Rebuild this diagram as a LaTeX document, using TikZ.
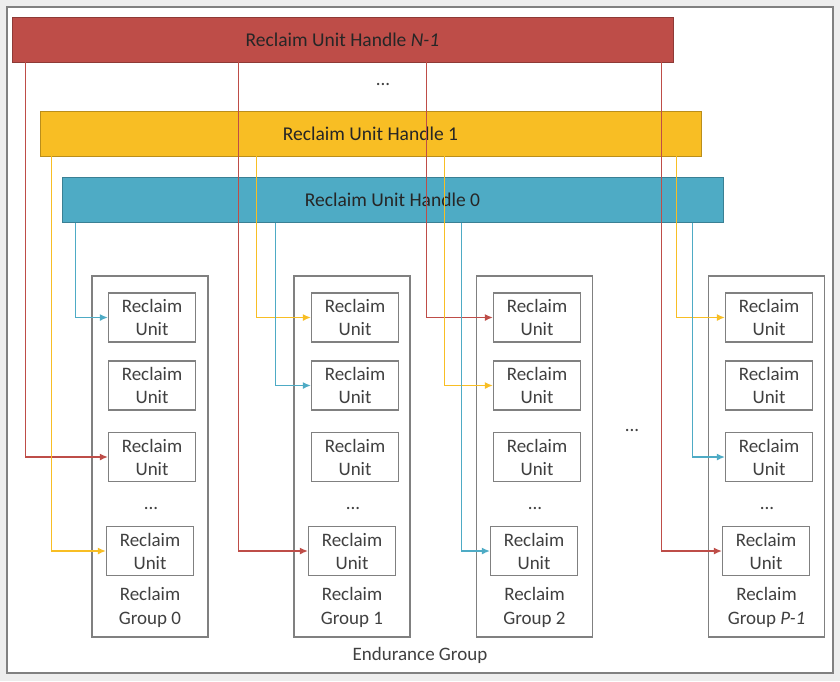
\documentclass[tikz,border=0pt]{standalone}
\usepackage{fontspec}
\setmainfont{Carlito}
\usetikzlibrary{arrows.meta}

\definecolor{rhred}{HTML}{BE4D48}
\definecolor{rhyellow}{HTML}{F8BE24}
\definecolor{rhblue}{HTML}{4EABC5}
\definecolor{boxgray}{HTML}{808080}

\tikzset{
  handle/.style={draw=#1!75!black, fill=#1, minimum width=661pt, minimum height=45pt,
    font=\fontsize{19.5}{22}\selectfont, text=black!85},
  unit/.style={draw=boxgray, line width=1.3pt, fill=white, minimum width=87pt, minimum height=49pt,
    inner sep=1pt, align=center, font=\fontsize{19}{23}\selectfont, text=black!75},
  rgroup/.style={draw=boxgray, line width=1.3pt, minimum width=116pt, minimum height=361pt},
  glabel/.style={align=center, font=\fontsize{19}{24}\selectfont, text=black!75},
  link/.style={draw=#1, line width=1.3pt, -{Latex[length=8pt,width=7pt]}},
}

\begin{document}
\begin{tikzpicture}[x=1pt,y=-1pt]
 \fill[black!7] (0,0) rectangle (840,681);
 \draw[boxgray, line width=1.5pt, fill=white] (7,7) rectangle (833,673);

 % handles
 \node[handle=rhred] (rhn) at (342.5,39.5) {Reclaim Unit Handle \textit{N-1}};
 \node[glabel] (hdots) at (383,84) {...};
 \node[handle=rhyellow] (rh1) at (370.5,133.5) {Reclaim Unit Handle 1};
 \node[handle=rhblue] (rh0) at (392.5,200) {Reclaim Unit Handle 0};

 % reclaim groups
 \node[rgroup] (g0) at (150,456.5) {};
 \node[rgroup] (g1) at (352,456.5) {};
 \node[rgroup] (g2) at (534.5,456.5) {};
 \node[rgroup] (gp) at (766.5,456.5) {};

 \node[unit] (g0u1) at (152,317.5) {Reclaim\\Unit};
 \node[unit] (g0u2) at (152,385.5) {Reclaim\\Unit};
 \node[unit] (g0u3) at (152,457) {Reclaim\\Unit};
 \node[glabel] (g0dots) at (151,508) {...};
 \node[unit] (g0u4) at (150,551) {Reclaim\\Unit};
 \node[glabel] (g0name) at (150,607) {Reclaim\\Group 0};

 \node[unit] (g1u1) at (355,317.5) {Reclaim\\Unit};
 \node[unit] (g1u2) at (355,385.5) {Reclaim\\Unit};
 \node[unit] (g1u3) at (355,457) {Reclaim\\Unit};
 \node[glabel] (g1dots) at (353,508) {...};
 \node[unit] (g1u4) at (352,551) {Reclaim\\Unit};
 \node[glabel] (g1name) at (352,607) {Reclaim\\Group 1};

 \node[unit] (g2u1) at (537,317.5) {Reclaim\\Unit};
 \node[unit] (g2u2) at (537,385.5) {Reclaim\\Unit};
 \node[unit] (g2u3) at (537,457) {Reclaim\\Unit};
 \node[glabel] (g2dots) at (535,508) {...};
 \node[unit] (g2u4) at (534,551) {Reclaim\\Unit};
 \node[glabel] (g2name) at (534.5,607) {Reclaim\\Group 2};

 \node[glabel] (pdots) at (632,430) {...};

 \node[unit] (gpu1) at (769,317.5) {Reclaim\\Unit};
 \node[unit] (gpu2) at (769,385.5) {Reclaim\\Unit};
 \node[unit] (gpu3) at (769,457) {Reclaim\\Unit};
 \node[glabel] (gpdots) at (767,508) {...};
 \node[unit] (gpu4) at (766,551) {Reclaim\\Unit};
 \node[glabel] (gpname) at (766.5,607) {Reclaim\\Group \textit{P-1}};

 \node[glabel] (eg) at (420,655) {Endurance Group};

 % handle N-1
 \draw[link=rhred] ([xshift=14pt]rhn.south west) |- (g0u3.west);
 \draw[link=rhred] ([xshift=227pt]rhn.south west) |- (g1u4.west);
 \draw[link=rhred] ([xshift=415pt]rhn.south west) |- (g2u1.west);
 \draw[link=rhred] ([xshift=650pt]rhn.south west) |- (gpu4.west);

 % handle 1
 \draw[link=rhyellow] ([xshift=12pt]rh1.south west) |- (g0u4.west);
 \draw[link=rhyellow] ([xshift=217pt]rh1.south west) |- (g1u1.west);
 \draw[link=rhyellow] ([xshift=405pt]rh1.south west) |- (g2u2.west);
 \draw[link=rhyellow] ([xshift=637pt]rh1.south west) |- (gpu1.west);

 % handle 0
 \draw[link=rhblue] ([xshift=14pt]rh0.south west) |- (g0u1.west);
 \draw[link=rhblue] ([xshift=214pt]rh0.south west) |- (g1u2.west);
 \draw[link=rhblue] ([xshift=400pt]rh0.south west) |- (g2u4.west);
 \draw[link=rhblue] ([xshift=631pt]rh0.south west) |- (gpu3.west);
\end{tikzpicture}
\end{document}
